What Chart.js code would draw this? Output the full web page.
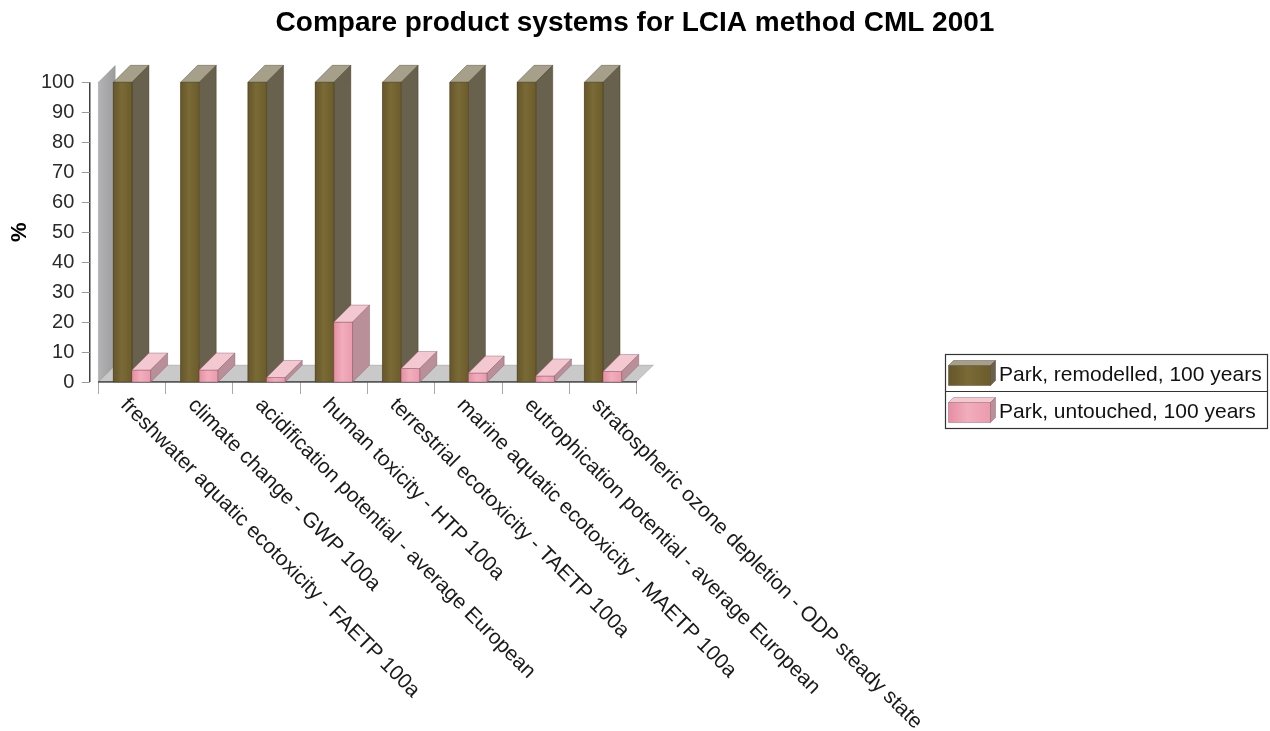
<!DOCTYPE html>
<html>
<head>
<meta charset="utf-8">
<title>Compare product systems for LCIA method CML 2001</title>
<script src="https://cdn.jsdelivr.net/npm/chart.js@4.4.0/dist/chart.umd.min.js"></script>
<style>
  html, body { margin: 0; padding: 0; background: #fff; }
  canvas { display: block; }
</style>
</head>
<body>
<canvas id="lciaChart" width="1270" height="731"></canvas>
<script>
const categories = [
    'freshwater aquatic ecotoxicity - FAETP 100a',
    'climate change - GWP 100a',
    'acidification potential - average European',
    'human toxicity - HTP 100a',
    'terrestrial ecotoxicity - TAETP 100a',
    'marine aquatic ecotoxicity - MAETP 100a',
    'eutrophication potential - average European',
    'stratospheric ozone depletion - ODP steady state'
];
const seriesNames = ['Park, remodelled, 100 years', 'Park, untouched, 100 years'];
const remodelled = [100, 100, 100, 100, 100, 100, 100, 100];
const untouched = [4, 4, 1.5, 20, 4.5, 3, 2, 3.5];
const yTicks = [0, 10, 20, 30, 40, 50, 60, 70, 80, 90, 100];

const FONT = '"Liberation Sans", Arial, sans-serif';

// depth of the fake 3D extrusion
const DX = 17, DY = -17;

const faceStyles = [
    { front: ['#66562a', '#7a6a36', '#6c5c2b'], top: '#a6a08b', side: '#68614d', edge: 'rgba(50,42,20,0.45)' },
    { front: ['#e58ea3', '#f2adbc', '#eb9bae'], top: '#f4c8d1', side: '#b98f99', edge: 'rgba(120,70,85,0.45)' }
];

function poly(ctx, pts, fill, edge) {
    ctx.beginPath();
    ctx.moveTo(pts[0][0], pts[0][1]);
    for (let i = 1; i < pts.length; i++) ctx.lineTo(pts[i][0], pts[i][1]);
    ctx.closePath();
    ctx.fillStyle = fill;
    ctx.fill();
    if (edge) {
        ctx.strokeStyle = edge;
        ctx.lineWidth = 0.8;
        ctx.stroke();
    }
}

function barBox(el) {
    const p = el.getProps(['x', 'y', 'base', 'width'], true);
    return { l: p.x - p.width / 2, r: p.x + p.width / 2, t: p.y, b: p.base };
}

function drawTopSide(ctx, el, st) {
    const { l, r, t, b } = barBox(el);
    poly(ctx, [[l, t], [l + DX, t + DY], [r + DX, t + DY], [r, t]], st.top, st.edge);
    poly(ctx, [[r, t], [r + DX, t + DY], [r + DX, b + DY], [r, b]], st.side, st.edge);
}

function drawFront(ctx, el, st) {
    const { l, r, t, b } = barBox(el);
    const g = ctx.createLinearGradient(l, 0, r, 0);
    g.addColorStop(0, st.front[0]);
    g.addColorStop(0.45, st.front[1]);
    g.addColorStop(1, st.front[2]);
    poly(ctx, [[l, t], [r, t], [r, b], [l, b]], g, st.edge);
}

const box3d = {
    id: 'box3d',
    beforeDatasetsDraw(chart) {
        const ctx = chart.ctx;
        const { left: L, right: R, top: T, bottom: B } = chart.chartArea;
        ctx.save();
        // floor
        poly(ctx, [[L, B - 0.5], [R, B - 0.5], [R + DX, B + DY], [L + DX, B + DY]], '#c9c9c9', 'rgba(0,0,0,0.15)');
        // side wall
        const wg = ctx.createLinearGradient(L, 0, L + DX, 0);
        wg.addColorStop(0, '#b3b3b5');
        wg.addColorStop(1, '#9c9c9f');
        poly(ctx, [[L, B], [L, T], [L + DX, T + DY], [L + DX, B + DY]], wg, 'rgba(0,0,0,0.12)');
        // y axis line and tick marks
        const ys = chart.scales.y;
        const ax = L - 8.5;
        ctx.strokeStyle = '#111';
        ctx.lineWidth = 1.2;
        ctx.beginPath();
        ctx.moveTo(ax, ys.getPixelForValue(100));
        ctx.lineTo(ax, ys.getPixelForValue(0));
        ctx.stroke();
        ctx.strokeStyle = '#9a9a9a';
        ctx.lineWidth = 1;
        yTicks.forEach(v => {
            const py = Math.round(ys.getPixelForValue(v)) + 0.5;
            ctx.beginPath();
            ctx.moveTo(ax - 8, py);
            ctx.lineTo(ax, py);
            ctx.stroke();
        });
        // tops and sides of the back series, so the front series covers them
        chart.getDatasetMeta(0).data.forEach(el => drawTopSide(ctx, el, faceStyles[0]));
        ctx.restore();
    },
    afterDatasetsDraw(chart) {
        const ctx = chart.ctx;
        ctx.save();
        chart.getDatasetMeta(0).data.forEach(el => drawFront(ctx, el, faceStyles[0]));
        chart.getDatasetMeta(1).data.forEach(el => {
            drawFront(ctx, el, faceStyles[1]);
            drawTopSide(ctx, el, faceStyles[1]);
        });
        ctx.restore();
    },
    afterDraw(chart) {
        const ctx = chart.ctx;
        const xs = chart.scales.x;
        ctx.save();
        // slanted category labels
        ctx.font = '21px ' + FONT;
        ctx.fillStyle = '#1a1a1a';
        ctx.textAlign = 'left';
        ctx.textBaseline = 'middle';
        categories.forEach((label, i) => {
            ctx.save();
            ctx.translate(xs.getPixelForValue(i) - 8, 402);
            ctx.rotate(Math.PI / 4);
            ctx.fillText(label, 0, 0);
            ctx.restore();
        });

        // legend table
        const lx = 945.5, ly = 354.5, lw = 322, rowH = 37;
        ctx.strokeStyle = '#333';
        ctx.lineWidth = 1.2;
        ctx.strokeRect(lx, ly, lw, rowH * 2);
        ctx.beginPath();
        ctx.moveTo(lx, ly + rowH);
        ctx.lineTo(lx + lw, ly + rowH);
        ctx.stroke();
        seriesNames.forEach((name, i) => {
            const st = faceStyles[i];
            const top = ly + i * rowH;
            const fl = lx + 3, fr = lx + 45, ft = top + 11, fb = top + 31, d = 5;
            const g = ctx.createLinearGradient(fl, 0, fr, 0);
            g.addColorStop(0, st.front[0]);
            g.addColorStop(0.45, st.front[1]);
            g.addColorStop(1, st.front[2]);
            poly(ctx, [[fl, ft], [fr, ft], [fr, fb], [fl, fb]], g, st.edge);
            poly(ctx, [[fl, ft], [fl + d, ft - d], [fr + d, ft - d], [fr, ft]], st.top, st.edge);
            poly(ctx, [[fr, ft], [fr + d, ft - d], [fr + d, fb - d], [fr, fb]], st.side, st.edge);
            ctx.fillStyle = '#111';
            ctx.textBaseline = 'alphabetic';
            ctx.fillText(name, lx + 53.5, top + 26);
        });
        ctx.restore();
    }
};

const ctx = document.getElementById('lciaChart');
const lciaChart = new Chart(ctx, {
    type: 'bar',
    data: {
        labels: categories,
        datasets: [{
            label: seriesNames[0],
            data: remodelled,
            backgroundColor: '#74642f',
            borderWidth: 0
        }, {
            label: seriesNames[1],
            data: untouched,
            backgroundColor: '#eb9bae',
            borderWidth: 0
        }]
    },
    options: {
        responsive: false,
        devicePixelRatio: 1,
        animation: false,
        layout: { padding: 0 },
        datasets: {
            bar: { categoryPercentage: 0.556, barPercentage: 1.0 }
        },
        plugins: {
            legend: { display: false },
            tooltip: { enabled: false },
            title: {
                display: true,
                text: 'Compare product systems for LCIA method CML 2001',
                color: '#000',
                font: { family: FONT, size: 28, weight: 'bold' },
                padding: { top: 6, bottom: 42.7 }
            }
        },
        scales: {
            x: {
                type: 'category',
                offset: true,
                grid: { display: true, drawOnChartArea: false, offset: true, tickLength: 12, color: '#a8a8a8' },
                border: { display: true, color: '#000', width: 1.5 },
                ticks: { display: false },
                afterFit(scale) { scale.height = 349; }
            },
            y: {
                min: 0,
                max: 100,
                grid: { display: false, drawTicks: false },
                border: { display: false },
                afterBuildTicks(scale) { scale.ticks = yTicks.map(v => ({ value: v })); },
                ticks: {
                    padding: 24,
                    color: '#2a2a2a',
                    font: { family: FONT, size: 20 }
                },
                title: {
                    display: true,
                    text: '%',
                    color: '#000',
                    font: { family: FONT, size: 22, weight: 'bold' },
                    padding: { top: 7, bottom: 0 }
                },
                afterFit(scale) { scale.width = 98.3; }
            },
            spacer: {
                type: 'linear',
                position: 'right',
                display: true,
                grid: { display: false },
                border: { display: false },
                ticks: { display: false },
                afterFit(scale) { scale.width = 633.3; }
            }
        }
    },
    plugins: [box3d]
});
</script>
</body>
</html>
